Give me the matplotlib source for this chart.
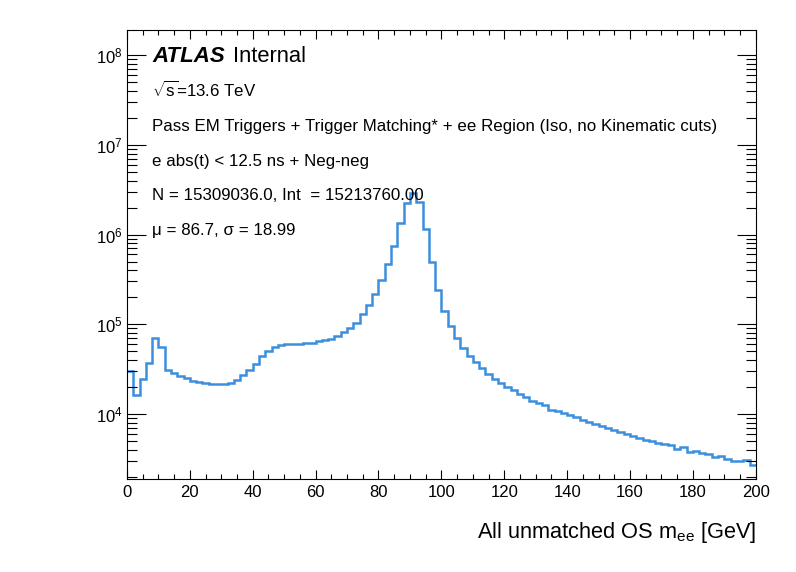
import numpy as np
import matplotlib

matplotlib.use("agg")

from matplotlib import pyplot as plt
from matplotlib import ticker

# 100 bins of 2 GeV from 0 to 200
bin_edges = np.arange(0, 202, 2)
counts = [
    29800, 16300, 24500, 36900, 70500, 56000, 31000, 28300, 26700, 25100,
    23100, 22500, 22100, 21500, 21500, 21700, 22300, 23900, 27100, 30800,
    35900, 44100, 50100, 55500, 59400, 60000, 60500, 61000, 61500, 62500,
    64300, 66000, 67700, 73600, 81000, 92000, 104000, 129000, 163000, 215000,
    311000, 464000, 755000, 1340000, 2250000, 2900000, 2290000, 1140000, 492000, 240000,
    139000, 95700, 69900, 54100, 44500, 38100, 32700, 27800, 24700, 22300,
    20100, 18500, 16700, 15300, 14100, 13300, 12600, 11100, 10700, 10300,
    9750, 9180, 8580, 8220, 7810, 7300, 6940, 6700, 6250, 5990,
    5740, 5370, 5140, 4970, 4760, 4640, 4530, 4090, 4270, 3810,
    3910, 3690, 3590, 3300, 3390, 3110, 2980, 2980, 3030, 2670,
]

info_lines = [
    r"$\sqrt{\mathrm{s}}$=13.6 TeV",
    "Pass EM Triggers + Trigger Matching* + ee Region (Iso, no Kinematic cuts)",
    "e abs(t) < 12.5 ns + Neg-neg",
    "N = 15309036.0, Int  = 15213760.00",
    "\u03bc = 86.7, \u03c3 = 18.99",
]

plt.rcParams["font.family"] = ["Liberation Sans", "DejaVu Sans"]
plt.rcParams["mathtext.fontset"] = "custom"
plt.rcParams["mathtext.rm"] = "Liberation Sans"
plt.rcParams["mathtext.it"] = "Liberation Sans:italic"
plt.rcParams["mathtext.bf"] = "Liberation Sans:bold"

fig = plt.figure(figsize=(7.96, 5.72), dpi=100)
ax = fig.add_axes([0.1595, 0.1626, 0.790, 0.785])

ax.stairs(counts, bin_edges, color="#3b8fdd", lw=1.8, baseline=None)

ax.set_yscale("log")
ax.set_xlim(0, 200)
ax.set_ylim(1884, 1.91e8)

ax.xaxis.set_major_locator(ticker.MultipleLocator(20))
ax.xaxis.set_minor_locator(ticker.MultipleLocator(5))
ax.yaxis.set_major_locator(ticker.LogLocator(base=10, numticks=20))
ax.yaxis.set_minor_locator(ticker.LogLocator(base=10, subs=np.arange(2, 10), numticks=20))
ax.yaxis.set_minor_formatter(ticker.NullFormatter())

ax.tick_params(which="both", direction="in", top=True, right=True, width=0.8, labelsize=12)
ax.tick_params(axis="x", which="major", length=6.5, pad=4.5)
ax.tick_params(axis="x", which="minor", length=3.3)
ax.tick_params(axis="y", which="major", length=13.5, pad=3)
ax.tick_params(axis="y", which="minor", length=7.2)
for sp in ax.spines.values():
    sp.set_linewidth(0.8)

fig.text(0.9497, 0.0594, r"All unmatched OS m$_{\mathrm{ee}}$ [GeV]",
         ha="right", va="baseline", fontsize=15.7)

fig.text(0.191, 0.891, "ATLAS", fontsize=16, fontweight="bold", fontstyle="italic",
         va="baseline")
fig.text(0.293, 0.891, "Internal", fontsize=15.8, va="baseline")

y0 = 0.831
for i, line in enumerate(info_lines):
    fig.text(0.191, y0 - i * 0.0604, line, fontsize=12.2, va="baseline")

fig.savefig("out.png", dpi=100)
plt.close()
